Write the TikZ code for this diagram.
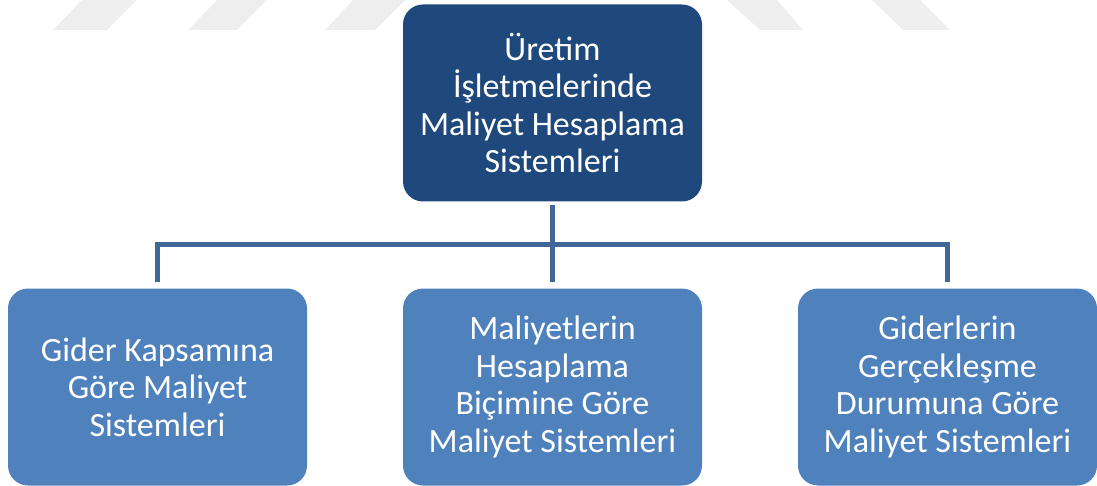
\documentclass[tikz,border=0pt]{standalone}
\usepackage{fontspec}
\setmainfont{Carlito}
\definecolor{topblue}{RGB}{31,73,125}
\definecolor{boxblue}{RGB}{79,129,189}
\definecolor{connblue}{RGB}{63,104,152}
\definecolor{wmgray}{RGB}{238,238,238}
\tikzset{
  topbox/.style={draw=none, fill=topblue, rounded corners=20pt, minimum width=299pt, minimum height=197pt, text=white, align=center, inner sep=0pt, font=\fontsize{34}{37.5}\selectfont},
  childbox/.style={draw=none, fill=boxblue, rounded corners=20pt, minimum width=299pt, minimum height=197pt, text=white, align=center, inner sep=0pt, font=\fontsize{34}{37.5}\selectfont},
  conn/.style={draw=connblue, line width=5pt},
  wm/.style={fill=wmgray, draw=none}
}
\begin{document}
\begin{tikzpicture}[x=1pt,y=-1pt]
\useasboundingbox (0,0) rectangle (1097,486);
% watermark
\fill[wm] (53,30) -- (107,30) -- (137,0) -- (82,0) -- cycle;
\fill[wm] (188,30) -- (237,30) -- (267,0) -- (217,0) -- cycle;
\fill[wm] (325,30) -- (375,30) -- (405,0) -- (353,0) -- cycle;
\fill[wm] (760,30) -- (803,30) -- (777,0) -- (727,0) -- cycle;
\fill[wm] (903,30) -- (950,30) -- (920,0) -- (872,0) -- cycle;
% boxes
\node[topbox] (top) at (552.5,103) {Üretim\\İşletmelerinde\\Maliyet Hesaplama\\Sistemleri};
\node[childbox] (b1) at (157.5,387) {Gider Kapsamına\\Göre Maliyet\\Sistemleri};
\node[childbox] (b2) at (552.5,387) {Maliyetlerin\\Hesaplama\\Biçimine Göre\\Maliyet Sistemleri};
\node[childbox] (b3) at (947.5,387) {Giderlerin\\Gerçekleşme\\Durumuna Göre\\Maliyet Sistemleri};
% connectors
\coordinate (j) at (552.5,245);
\draw[conn, shorten <=3pt] (top.south) -- (j);
\draw[conn, shorten >=6pt] (j) -- (b2.north);
\draw[conn, shorten <=6pt, shorten >=6pt] (b1.north) |- (j) -| (b3.north);
\end{tikzpicture}
\end{document}
